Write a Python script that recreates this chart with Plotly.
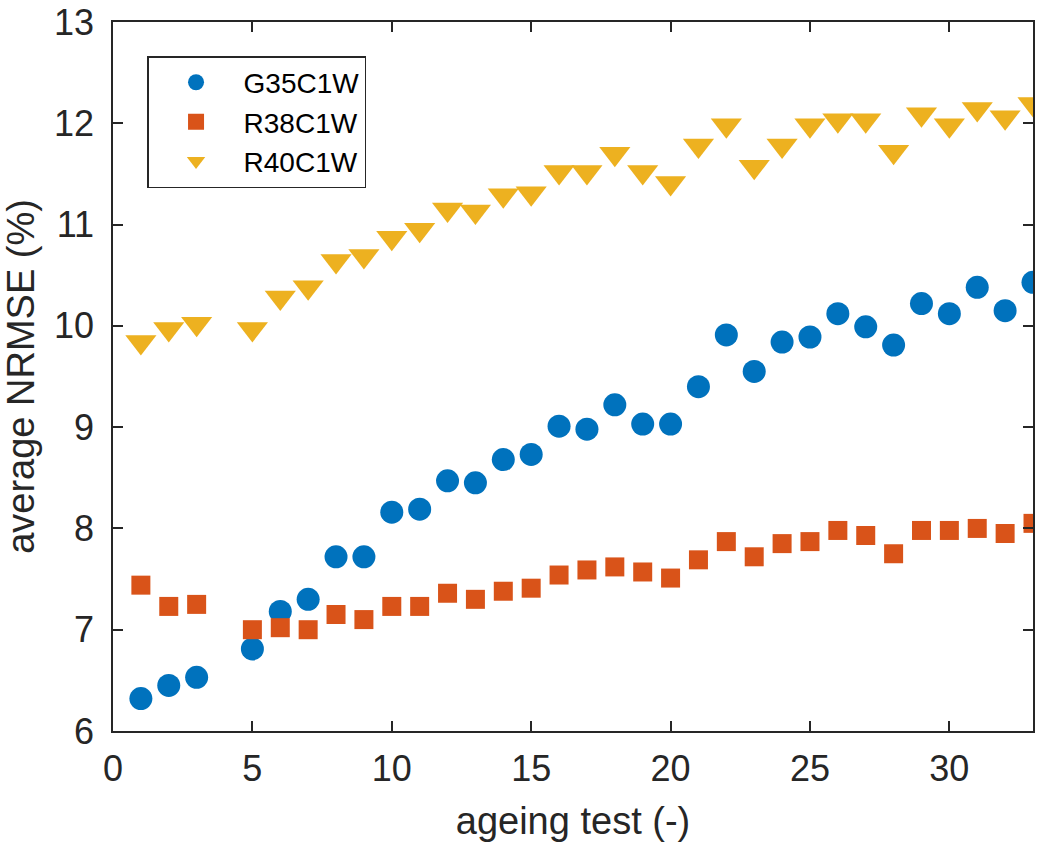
import plotly.graph_objects as go

# ageing test index (test 4 is absent for every sample)
ageing_test = [1, 2, 3, 5, 6, 7, 8, 9, 10, 11, 12, 13, 14, 15, 16, 17, 18,
               19, 20, 21, 22, 23, 24, 25, 26, 27, 28, 29, 30, 31, 32, 33]

# average NRMSE (%) per sample
g35c1w = [6.32, 6.45, 6.53, 6.81, 7.18, 7.30, 7.72, 7.72, 8.16, 8.19, 8.47,
          8.45, 8.68, 8.73, 9.01, 8.98, 9.22, 9.03, 9.03, 9.40, 9.91, 9.55,
          9.84, 9.89, 10.12, 9.99, 9.81, 10.22, 10.12, 10.38, 10.15, 10.43]
r38c1w = [7.44, 7.23, 7.25, 7.00, 7.02, 7.00, 7.15, 7.10, 7.23, 7.23, 7.36,
          7.30, 7.38, 7.41, 7.54, 7.59, 7.62, 7.57, 7.51, 7.69, 7.87, 7.72,
          7.85, 7.87, 7.98, 7.93, 7.75, 7.98, 7.98, 8.00, 7.95, 8.05]
r40c1w = [9.84, 9.97, 10.02, 9.97, 10.28, 10.38, 10.64, 10.69, 10.87, 10.95,
          11.15, 11.13, 11.29, 11.31, 11.52, 11.52, 11.70, 11.52, 11.41,
          11.78, 11.98, 11.57, 11.78, 11.98, 12.03, 12.03, 11.72, 12.09,
          11.98, 12.14, 12.06, 12.19]

series = [
    ("G35C1W", g35c1w, "circle", 23, "#0072BD"),
    ("R38C1W", r38c1w, "square", 19, "#D95319"),
    ("R40C1W", r40c1w, "triangle-down", 27, "#EDB120"),
]

FONT = "Liberation Sans, Arial, Helvetica, sans-serif"
AXIS_COLOR = "#262626"

fig = go.Figure()
for name, values, symbol, size, color in series:
    fig.add_trace(go.Scatter(
        x=ageing_test, y=values, name=name, mode="markers",
        legendgroup=name,
        marker=dict(symbol=symbol, size=size, color=color,
                    line=dict(width=0)),
    ))

axis_common = dict(
    showgrid=False, zeroline=False, automargin=False,
    showline=True, linecolor=AXIS_COLOR, linewidth=1.5,
    mirror="ticks", ticks="inside", ticklen=10, tickwidth=1.5,
    tickcolor=AXIS_COLOR,
    tickfont=dict(family=FONT, size=36, color=AXIS_COLOR),
)

fig.update_xaxes(
    range=[0, 33], tick0=0, dtick=5,
    title=dict(text="ageing test (-)",
               font=dict(family=FONT, size=38, color=AXIS_COLOR),
               standoff=24),
    ticklabelstandoff=5,
    **axis_common,
)
fig.update_yaxes(
    range=[6, 13], tick0=6, dtick=1,
    title=dict(text="average NRMSE (%)",
               font=dict(family=FONT, size=38, color=AXIS_COLOR),
               standoff=8),
    ticklabelstandoff=10,
    **axis_common,
)

fig.update_layout(
    width=1040, height=842,
    margin=dict(l=113, r=7, t=22, b=111),
    plot_bgcolor="white", paper_bgcolor="white",
    font=dict(family=FONT, color=AXIS_COLOR),
    legend=dict(
        x=0.037, y=0.952, xanchor="left", yanchor="top",
        bgcolor="white", bordercolor=AXIS_COLOR, borderwidth=1.5,
        font=dict(family=FONT, size=28, color="black"),
        itemwidth=85, tracegroupgap=0,
    ),
)

fig.write_html("out.html")
